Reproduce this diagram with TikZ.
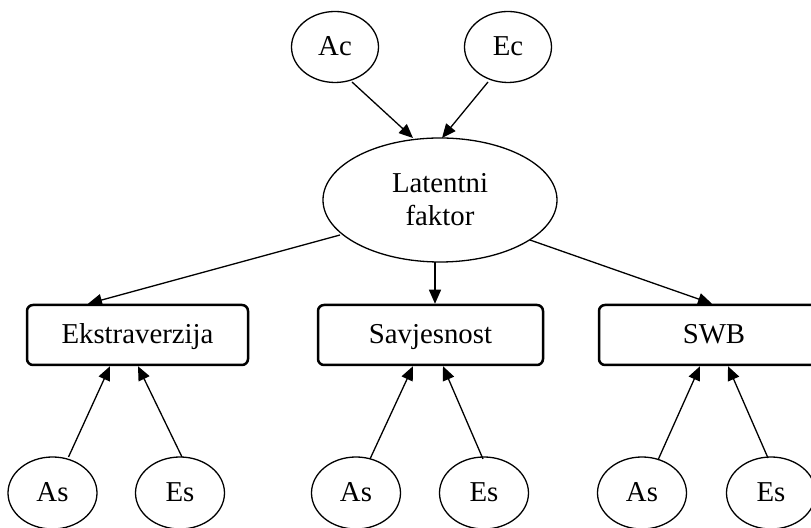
\documentclass[tikz,border=0pt]{standalone}
\usepackage{fontspec}
\setmainfont{Liberation Serif}
\usetikzlibrary{shapes.geometric,arrows.meta,calc}
\begin{document}
\begin{tikzpicture}[x=0.5pt,y=-0.5pt,
 lat/.style={ellipse,draw,line width=0.65pt,inner sep=0pt,font=\fontsize{14.4}{16.5}\selectfont,align=center},
 small/.style={lat,minimum width=44.5pt,minimum height=36pt,text height=9pt,text depth=0pt},
 top/.style={lat,minimum width=43.5pt,minimum height=35.5pt,text height=9pt,text depth=0pt},
 box/.style={rectangle,rounded corners=3pt,draw,line width=1.25pt,minimum height=30pt,inner sep=0pt,text height=9pt,text depth=0pt,font=\fontsize{14.4}{16.5}\selectfont},
 arr/.style={-{Triangle[length=7pt,width=6pt]},line width=0.65pt}]
\clip (0,0) rectangle (811,528);
\useasboundingbox (0,0) rectangle (811,528);
\node[top] (Ac) at (335,47) {Ac};
\node[top] (Ec) at (508,47) {Ec};
\node[lat,minimum width=117pt,minimum height=62pt] (Lat) at (440,200) {Latentni\\faktor};
\node[box,minimum width=110.5pt] (Ek) at (137.5,335) {Ekstraverzija};
\node[box,minimum width=112.5pt] (Sav) at (430.5,335) {Savjesnost};
\node[box,minimum width=115pt] (SWB) at (714,335) {SWB};
\node[small] (As1) at (52.5,493) {As};
\node[small] (Es1) at (180,493) {Es};
\node[small] (As2) at (356,493) {As};
\node[small] (Es2) at (484,493) {Es};
\node[small] (As3) at (642,493) {As};
\node[small] (Es3) at (771,493) {Es};
\draw[arr] ([shift={(17,35)}]Ac.center) -- ([shift={(-27,-62)}]Lat.center);
\draw[arr] ([shift={(-20,35)}]Ec.center) -- ([shift={(2,-62)}]Lat.center);
\draw[arr] ([shift={(-100,35)}]Lat.center) -- ([shift={(-49.5,0)}]Ek.north);
\draw[arr] ([shift={(-5,62)}]Lat.center) -- ([shift={(4.5,0)}]Sav.north);
\draw[arr] ([shift={(90,40)}]Lat.center) -- ([shift={(-2,0)}]SWB.north);
\draw[arr] ([shift={(16,-36)}]As1.center) -- ([shift={(-27.5,0)}]Ek.south);
\draw[arr] ([shift={(2,-36)}]Es1.center) -- ([shift={(0.5,0)}]Ek.south);
\draw[arr] ([shift={(14,-34)}]As2.center) -- ([shift={(-17.5,0)}]Sav.south);
\draw[arr] ([shift={(-1,-34)}]Es2.center) -- ([shift={(12.5,0)}]Sav.south);
\draw[arr] ([shift={(16,-33)}]As3.center) -- ([shift={(-14,0)}]SWB.south);
\draw[arr] ([shift={(-3,-35)}]Es3.center) -- ([shift={(14,0)}]SWB.south);
\end{tikzpicture}
\end{document}
